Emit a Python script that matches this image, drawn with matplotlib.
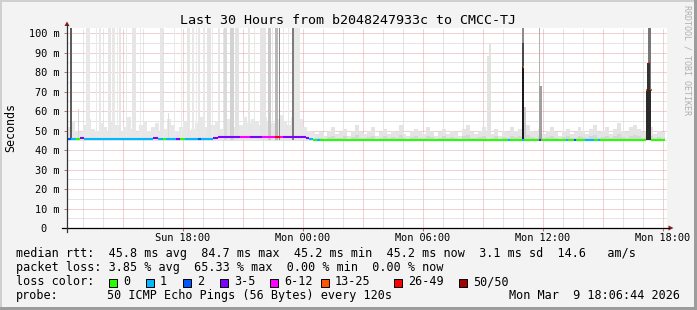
import numpy as np
import matplotlib
matplotlib.use("Agg")
import matplotlib.pyplot as plt
from matplotlib.patches import Rectangle, Polygon

W, H = 697, 310

# time axis: hours relative to Mon 00:00
t_start, t_end = -11.8, 18.2

loss_labels = ['0', '1', '2', '3-5', '6-12', '13-25', '26-49', '50/50']
loss_colors = ['#26ff00', '#00b8ff', '#0059ff', '#7e00ff', '#ff00ff', '#ff5500', '#ff0000', '#a10000']

# median rtt segments (ms): start hour, end hour, value, loss class
med_start = [-11.8, -11.6, -11.35, -11.15, -10.95, -7.5, -7.25, -7.0, -6.85, -6.35, -6.15, -5.9, -5.25, -5.1,
             -4.5, -4.25, -3.15, -2.65, -2.05, -1.4, -1.15, -1.0, 0.15, 0.3, 0.5, 0.7, 0.85, 10.25, 10.35,
             10.95, 11.05, 11.8, 11.9, 13.15, 13.25, 13.55, 13.65, 14.1, 14.55, 14.75, 14.85, 17.4,
             10.975, 17.125, 17.275, 17.375]
med_end = [-11.6, -11.35, -11.15, -10.95, -7.5, -7.25, -7.0, -6.85, -6.35, -6.15, -5.9, -5.25, -5.1, -4.5,
           -4.25, -3.15, -2.65, -2.05, -1.4, -1.15, -1.0, 0.15, 0.3, 0.5, 0.7, 0.85, 10.25, 10.35, 10.95,
           11.05, 11.8, 11.9, 13.15, 13.25, 13.55, 13.65, 14.1, 14.55, 14.75, 14.85, 17.125, 18.1,
           11.025, 17.175, 17.325, 17.425]
med_val = [45.9, 45.9, 45.7, 46.2, 45.9, 46.1, 45.9, 45.7, 45.9, 45.6, 45.7, 45.9, 45.9, 45.9,
           46.1, 46.6, 46.6, 46.6, 46.6, 46.8, 46.6, 46.6, 46.1, 45.6, 45.3, 45.3, 45.3, 45.3, 45.3,
           45.3, 45.3, 45.3, 45.3, 45.3, 45.3, 45.3, 45.3, 45.3, 45.3, 45.3, 45.3, 45.3,
           82.7, 70.8, 84.8, 70.8]
med_loss = [2, 1, 0, 3, 1, 3, 1, 0, 1, 3, 0, 1, 2, 1,
            3, 3, 4, 3, 4, 6, 4, 3, 3, 1, 0, 1, 0, 1, 0,
            1, 0, 3, 0, 1, 0, 2, 0, 1, 0, 1, 0, 0,
            5, 5, 6, 5]

# background smoke top (ms), evenly spaced bins
smoke_early = [52, 55, 50, 49, 53, 56, 51, 50, 54, 52, 49, 55, 53, 50, 52, 57, 51, 49, 53, 55, 50, 52,
               54, 49, 51, 56, 53, 50, 52, 55, 49, 51, 54, 57, 52, 50, 53, 55, 51, 54, 56, 52, 55, 53,
               57, 54, 56, 55, 53, 57, 55, 54, 56, 58, 55, 53, 57, 54, 56, 52, 50, 49]
smoke_late = [48, 49, 47, 50, 52, 48, 49, 51, 47, 50, 53, 49, 48, 50, 52, 47, 49, 51, 48, 50, 49, 53,
              48, 47, 50, 51, 49, 48, 52, 50, 47, 49, 51, 48, 50, 49, 47, 51, 53, 49, 48, 50, 52, 49,
              48, 51, 47, 50, 49, 52, 50, 51, 48, 53, 50, 49, 51, 48, 50, 52, 49, 47, 50, 51, 48, 49,
              52, 50, 48, 51, 53, 49, 50, 52, 48, 51, 54, 50, 49, 52, 53, 51, 49, 50, 52, 48, 50, 49]
split_t = 0.6

# tall smoke columns: start hour, end hour, top ms, shade
tall_start = [-11.675, -11.275, -10.85, -10.575, -10.35, -10.2, -9.75, -9.55, -9.3, -9.2, -8.85, -8.55,
              -8.15, -7.15, -6.775, -6.45, -6.1, -5.8, -5.55, -5.35, -5.25, -5.0, -4.8, -4.55, -4.25,
              -3.95, -3.65, -3.4, -2.75, -2.45, -2.15, -1.75, -1.55, -1.4, -1.225, -1.0, -0.75, -0.575,
              -0.45, 9.2, 9.3, 10.925, 10.95, 10.95, 11.05, 11.8, 11.8, 17.225, 17.2, 17.125]
tall_end = [-11.575, -11.225, -10.65, -10.525, -10.3, -10.1, -9.6, -9.4, -9.25, -9.1, -8.8, -8.35,
            -8.1, -7.0, -6.725, -6.4, -6.05, -5.65, -5.475, -5.3, -5.15, -4.9, -4.6, -4.5, -4.15,
            -3.8, -3.45, -3.2, -2.65, -2.4, -1.85, -1.6, -1.5, -1.25, -1.175, -0.95, -0.7, -0.475,
            -0.15, 9.3, 9.375, 11.05, 11.025, 11.025, 11.15, 11.85, 11.95, 17.4, 17.35, 17.4]
tall_top = [110, 61, 110, 54, 110, 110, 110, 110, 110, 110, 110, 110,
            110, 110, 59, 110, 110, 110, 110, 110, 110, 110, 110, 110, 110,
            110, 110, 110, 110, 110, 110, 110, 110, 110, 110, 110, 110, 110,
            110, 88, 95, 110, 94.9, 82.7, 62, 110, 72.8, 110, 84.8, 70.8]
tall_shade = ['#5e5e5e', '#d4d4d4', '#e8e8e8', '#dcdcdc', '#eaeaea', '#e8e8e8', '#e6e6e6', '#e8e8e8',
              '#eaeaea', '#e6e6e6', '#eaeaea', '#e6e6e6', '#eaeaea', '#e6e6e6', '#dcdcdc', '#eaeaea',
              '#eaeaea', '#e6e6e6', '#e8e8e8', '#eaeaea', '#e6e6e6', '#e8e8e8', '#e4e4e4', '#eaeaea',
              '#e6e6e6', '#dadada', '#d2d2d2', '#e2e2e2', '#e6e6e6', '#e8e8e8', '#e4e4e4', '#c8c8c8',
              '#e8e8e8', '#b8b8b8', '#8a8a8a', '#e8e8e8', '#e8e8e8', '#7c7c7c', '#e8e8e8',
              '#e4e4e4', '#e2e2e2', '#8c8c8c', '#4a4a4a', '#1a1a1a', '#cccccc', '#b0b0b0', '#a0a0a0',
              '#777777', '#333333', '#2a2a2a']

x_ticks = [-6, 0, 6, 12, 18]
x_labels = ['Sun 18:00', 'Mon 00:00', 'Mon 06:00', 'Mon 12:00', 'Mon 18:00']
y_ticks = [0, 10, 20, 30, 40, 50, 60, 70, 80, 90, 100]
y_labels = ['0  '] + ['%d m' % v for v in y_ticks[1:]]

stats_lines = [
    'median rtt:  45.8 ms avg  84.7 ms max  45.2 ms min  45.2 ms now  3.1 ms sd  14.6   am/s',
    'packet loss: 3.85 % avg  65.33 % max  0.00 % min  0.00 % now',
]
probe_text = '50 ICMP Echo Pings (56 Bytes) every 120s'
stamp_text = 'Mon Mar  9 18:06:44 2026'

MONO = 'DejaVu Sans Mono'
BG = '#f3f3f3'


def fx(x):
    return x / W


def fy(y):
    return 1 - y / H


fig = plt.figure(figsize=(W / 100, H / 100), dpi=100, facecolor=BG)

# canvas frame
fig.add_artist(Rectangle((0, fy(2)), 1, 2 / H, transform=fig.transFigure, color='#cfcfcf', lw=0))
fig.add_artist(Rectangle((0, 0), 2 / W, 1, transform=fig.transFigure, color='#cfcfcf', lw=0))
fig.add_artist(Rectangle((0, 0), 1, 3 / H, transform=fig.transFigure, color='#9c9c9c', lw=0))
fig.add_artist(Rectangle((fx(W - 3), 0), 3 / W, 1, transform=fig.transFigure, color='#9c9c9c', lw=0))

ax = fig.add_axes([fx(67), fy(228), 600 / W, 200 / H])
ax.set_facecolor('white')
ax.set_xlim(t_start, t_end)
ax.set_ylim(0, 102.6)
for s in ax.spines.values():
    s.set_visible(False)

# grid
grid_kw = dict(lw=0.72, linestyle=(0, (1, 1)), zorder=0.5)
for h in np.arange(-11, 19, 1):
    ax.axvline(h, color='#e3a3a3' if h % 3 == 0 else '#cdcdcd', **grid_kw)
for v in np.arange(5, 103, 5):
    ax.axhline(v, color='#e3a3a3' if v % 10 == 0 else '#cdcdcd', **grid_kw)

# smoke
edges = np.linspace(t_start, split_t, len(smoke_early) + 1)
ax.bar(edges[:-1], np.array(smoke_early) - 45, bottom=45, width=np.diff(edges), align='edge',
       color='#e7e7e7', lw=0, zorder=1)
edges = np.linspace(split_t, t_end - 0.1, len(smoke_late) + 1)
ax.bar(edges[:-1], np.array(smoke_late) - 45, bottom=45, width=np.diff(edges), align='edge',
       color='#e4e4e4', lw=0, zorder=1)
inner = 45 + (np.array(smoke_late) - 45) * 0.35
ax.bar(edges[:-1], inner - 45, bottom=45, width=np.diff(edges), align='edge',
       color='#d6d6d6', lw=0, zorder=1.1)

for s0, s1, top, c in zip(tall_start, tall_end, tall_top, tall_shade):
    ax.bar(s0, top - 45, bottom=45, width=s1 - s0, align='edge', color=c, lw=0, zorder=1.2)

# median line coloured by loss
ax.hlines(med_val, med_start, med_end, colors=[loss_colors[k] for k in med_loss],
          lw=1.5, capstyle='butt', zorder=3)

ax.set_xticks(x_ticks)
ax.set_xticklabels(x_labels, family=MONO, fontsize=7.4)
ax.set_yticks(y_ticks)
ax.set_yticklabels(y_labels, family=MONO, fontsize=7.4)
ax.tick_params(axis='x', length=2.2, width=0.72, color='#c07070', pad=1.5)
ax.tick_params(axis='y', length=2.2, width=0.72, color='#c07070', pad=3)

# axis lines and arrows
fig.add_artist(plt.Line2D([fx(62), fx(669)], [fy(228), fy(228)], transform=fig.transFigure,
                          color='black', lw=0.9))
fig.add_artist(plt.Line2D([fx(67), fx(67)], [fy(232), fy(25)], transform=fig.transFigure,
                          color='#333333', lw=0.9))
fig.add_artist(Polygon([(fx(64.5), fy(26)), (fx(69.5), fy(26)), (fx(67), fy(21.5))],
                       transform=fig.transFigure, color='#8b1a1a', lw=0))
fig.add_artist(Polygon([(fx(668.5), fy(225.5)), (fx(668.5), fy(230.5)), (fx(673.5), fy(228))],
                       transform=fig.transFigure, color='#8b1a1a', lw=0))

# texts
fig.text(fx(348), fy(24), 'Last 30 Hours from b2048247933c to CMCC-TJ', family=MONO,
         fontsize=9.6, ha='center', va='baseline')
fig.text(fx(11), fy(128), 'Seconds', family=MONO, fontsize=8.4, rotation=90,
         ha='center', va='center')
fig.text(fx(687), fy(60), 'RRDTOOL / TOBI OETIKER', family=MONO, fontsize=6.0, rotation=270,
         ha='center', va='center', color='#b0b0b0')

fig.text(fx(16), fy(257.5), stats_lines[0], family=MONO, fontsize=8.5, va='baseline')
fig.text(fx(16), fy(271.3), stats_lines[1], family=MONO, fontsize=8.5, va='baseline')
fig.text(fx(16), fy(285.2), 'loss color:', family=MONO, fontsize=8.5, va='baseline')
fig.text(fx(16), fy(299), 'probe:', family=MONO, fontsize=8.5, va='baseline')
fig.text(fx(107.3), fy(299), probe_text, family=MONO, fontsize=8.5, va='baseline')
fig.text(fx(680), fy(299), stamp_text, family=MONO, fontsize=8.5, va='baseline', ha='right')

sq_x = [108.5, 145.5, 182.5, 219.5, 270, 320.5, 394, 459]
for sx, lab, col in zip(sq_x, loss_labels, loss_colors):
    fig.add_artist(Rectangle((fx(sx), fy(286.5)), 8 / W, 8 / H, transform=fig.transFigure,
                             facecolor=col, edgecolor='black', lw=0.72))
    fig.text(fx(sx + 14.5), fy(285.2), lab, family=MONO, fontsize=8.5, va='baseline')

fig.savefig('out.png', dpi=100, facecolor=BG)
